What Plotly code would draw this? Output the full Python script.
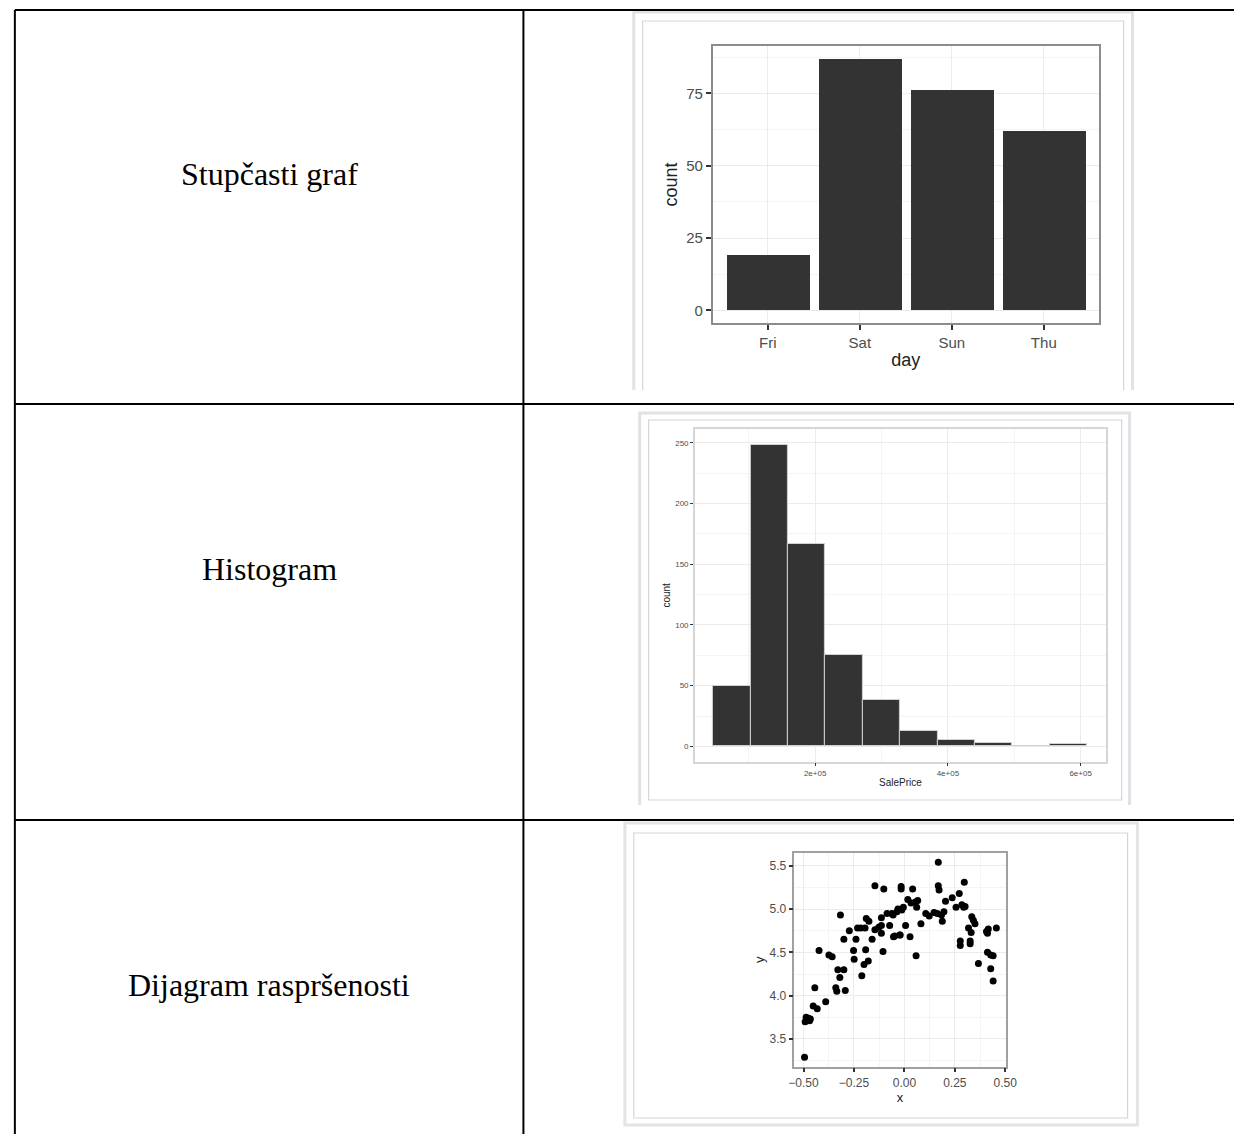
import plotly.graph_objects as go

W, H = 1246, 1134

# ---------------- data ----------------
row_labels = ["Stupčasti graf", "Histogram", "Dijagram raspršenosti"]

days = ["Fri", "Sat", "Sun", "Thu"]
day_counts = [19, 87, 76, 62]

price_bin_centers = [74700, 130980, 187260, 243540, 299820, 356100, 412380, 468660, 524940, 581220]
price_bin_width = 56280
price_counts = [50, 248, 167, 75, 38, 13, 5, 3, 0, 2]
price_tick_vals = [200000, 400000, 600000]
price_tick_text = ["2e+05", "4e+05", "6e+05"]
price_minor_vals = [100000, 300000, 500000]
count_tick_vals = [0, 50, 100, 150, 200, 250]

scatter_x = [
    -0.495, -0.492, -0.487, -0.482, -0.476, -0.470, -0.466, -0.452, -0.432, -0.444,
    -0.423, -0.390, -0.374, -0.358, -0.340, -0.335, -0.293, -0.330, -0.300, -0.320,
    -0.317, -0.300, -0.273, -0.252, -0.249, -0.211, -0.200, -0.192, -0.179, -0.240,
    -0.232, -0.216, -0.195, -0.189, -0.176, -0.160, -0.146, -0.127, -0.114, -0.114,
    -0.146, -0.102, -0.106, -0.086, -0.062, -0.073, -0.054, -0.021, -0.013, -0.005,
    -0.016, -0.016, -0.114, -0.037, -0.056, -0.032, 0.006, 0.017, 0.033, 0.041,
    0.055, 0.066, 0.061, 0.028, 0.058, 0.082, 0.106, 0.123, 0.147, 0.163,
    0.168, 0.168, 0.172, 0.188, 0.184, 0.196, 0.204, 0.237, 0.256, 0.272,
    0.285, 0.294, 0.301, 0.297, 0.277, 0.277, 0.326, 0.326, 0.318, 0.331,
    0.334, 0.342, 0.350, 0.367, 0.416, 0.412, 0.407, 0.456, 0.412, 0.428,
    0.440, 0.428, 0.440, -0.048, -0.023,
]
scatter_y = [
    3.29, 3.70, 3.75, 3.72, 3.74, 3.71, 3.73, 3.88, 3.85, 4.09,
    4.52, 3.93, 4.47, 4.45, 4.09, 4.05, 4.06, 4.30, 4.30, 4.21,
    4.93, 4.65, 4.75, 4.52, 4.42, 4.23, 4.36, 4.53, 4.40, 4.65,
    4.78, 4.78, 4.78, 4.89, 4.86, 4.65, 4.76, 4.79, 4.90, 4.81,
    5.27, 5.23, 4.51, 4.95, 4.95, 4.81, 4.68, 4.70, 4.99, 5.02,
    5.26, 5.23, 4.72, 4.97, 4.93, 5.00, 4.81, 5.11, 5.07, 5.23,
    5.08, 5.10, 5.02, 4.68, 4.46, 4.83, 4.95, 4.92, 4.96, 4.95,
    5.54, 5.27, 5.22, 4.86, 4.93, 4.97, 5.09, 5.13, 5.02, 5.18,
    5.05, 5.02, 5.03, 5.31, 4.63, 4.58, 4.63, 4.60, 4.78, 4.73,
    4.91, 4.87, 4.83, 4.37, 4.77, 4.72, 4.74, 4.78, 4.50, 4.47,
    4.46, 4.31, 4.17, 4.69, 4.70,
]


# ---------------- helpers (pixel -> paper) ----------------
def fx(p):
    return p / W


def fy(p):
    return 1 - p / H


SANS = "Liberation Sans"
SERIF = "Liberation Serif"
GRID = "#ebebeb"
MINOR = "#f4f4f4"


def axis_style(tick_size, title_size, border, ticklen, tickwidth):
    return dict(
        showline=True, mirror=True, linecolor=border, linewidth=1.5,
        ticks="outside", ticklen=ticklen, tickwidth=tickwidth, tickcolor="#333333",
        showgrid=True, gridcolor=GRID, gridwidth=1, zeroline=False,
        tickfont=dict(family=SANS, size=tick_size, color="#4d4d4d"),
        title_font=dict(family=SANS, size=title_size, color="#222222"),
        fixedrange=True,
    )


fig = go.Figure()

# bar chart
fig.add_trace(go.Bar(x=days, y=day_counts, marker=dict(color="#333333", line=dict(width=0)),
                     width=0.9, xaxis="x", yaxis="y", showlegend=False))
# histogram
fig.add_trace(go.Bar(x=price_bin_centers, y=price_counts, width=price_bin_width,
                     marker=dict(color="#333333", line=dict(color="#d0d0d0", width=1)),
                     xaxis="x2", yaxis="y2", showlegend=False))
# scatter
fig.add_trace(go.Scatter(x=scatter_x, y=scatter_y, mode="markers",
                         marker=dict(color="#000000", size=7),
                         xaxis="x3", yaxis="y3", showlegend=False))

layout = dict(
    width=W, height=H, margin=dict(l=0, r=0, t=0, b=0),
    paper_bgcolor="white", plot_bgcolor="rgba(0,0,0,0)",
    bargap=0,
)

# --- bar chart axes
ax = axis_style(15, 18, "#8c8c8c", 5, 2)
ax.update(domain=[fx(717), fx(1109)], anchor="y", type="category", range=[-0.6, 3.6],
          title=dict(text="day", standoff=4))
ay = axis_style(15, 18, "#8c8c8c", 5, 2)
ay.update(domain=[fy(323), fy(46)], anchor="x", range=[-4.35, 91.35],
          tickmode="linear", tick0=0, dtick=25,
          minor=dict(tick0=0, dtick=12.5, showgrid=True, gridcolor=MINOR),
          title=dict(text="count", standoff=4))
layout["xaxis"] = ax
layout["yaxis"] = ay

# --- histogram axes
ax2 = axis_style(8, 10, "#d6d6d6", 3, 1)
ax2.update(domain=[fx(699), fx(1116)], anchor="y2", range=[18850, 638000],
           tickmode="array", tickvals=price_tick_vals, ticktext=price_tick_text,
           minor=dict(tickmode="array", tickvals=price_minor_vals, showgrid=True, gridcolor=MINOR),
           title=dict(text="SalePrice", standoff=2))
ay2 = axis_style(8, 10, "#d6d6d6", 3, 1)
ay2.update(domain=[fy(761.7), fy(429)], anchor="x2", range=[-12.6, 261.3],
           tickmode="array", tickvals=count_tick_vals,
           minor=dict(tick0=0, dtick=25, showgrid=True, gridcolor=MINOR),
           title=dict(text="count", standoff=3))
layout["xaxis2"] = ax2
layout["yaxis2"] = ay2

# --- scatter axes
ax3 = axis_style(12, 13, "#a0a0a0", 4, 1.5)
ax3.update(domain=[fx(800), fx(1014.3)], anchor="y3", range=[-0.545, 0.502],
           tickmode="linear", tick0=-0.5, dtick=0.25, tickformat=".2f",
           minor=dict(tick0=-0.5, dtick=0.125, showgrid=True, gridcolor=MINOR),
           title=dict(text="x", standoff=2))
ay3 = axis_style(12, 13, "#a0a0a0", 4, 1.5)
ay3.update(domain=[fy(1066.7), fy(853)], anchor="x3", range=[3.18, 5.647],
           tickmode="linear", tick0=3.5, dtick=0.5, tickformat=".1f",
           minor=dict(tick0=3.5, dtick=0.25, showgrid=True, gridcolor=MINOR),
           title=dict(text="y", standoff=2))
layout["xaxis3"] = ax3
layout["yaxis3"] = ay3

shapes = []


def frame_path(x0, y0, x1, y1, color, width, closed):
    if closed:
        path = f"M {fx(x0)},{fy(y1)} L {fx(x0)},{fy(y0)} L {fx(x1)},{fy(y0)} L {fx(x1)},{fy(y1)} Z"
    else:
        path = f"M {fx(x0)},{fy(y1)} L {fx(x0)},{fy(y0)} L {fx(x1)},{fy(y0)} L {fx(x1)},{fy(y1)}"
    return dict(type="path", path=path, xref="paper", yref="paper",
                line=dict(color=color, width=width), fillcolor="white" if closed else None,
                layer="below")


# image frames (outer light strip + inner thin line)
shapes.append(frame_path(637, 12, 1143, 390, "#dfe2e6", 3, False))
shapes.append(frame_path(646, 21, 1134, 390, "#d3d5d8", 1.2, False))
shapes.append(frame_path(643, 413, 1140, 805, "#dfe2e6", 3, False))
shapes.append(frame_path(652, 420, 1132, 800, "#d3d5d8", 1.2, True))
shapes.append(frame_path(628, 823, 1148, 1125, "#e2e4e8", 3, True))
shapes.append(frame_path(637, 833, 1138, 1118, "#d3d5d8", 1.2, True))

# table lines
for yy in (10, 404, 820):
    shapes.append(dict(type="line", xref="paper", yref="paper",
                       x0=fx(9), x1=fx(1246), y0=fy(yy), y1=fy(yy),
                       line=dict(color="black", width=2), layer="above"))
for xx in (9, 525):
    shapes.append(dict(type="line", xref="paper", yref="paper",
                       x0=fx(xx), x1=fx(xx), y0=fy(10), y1=fy(1134),
                       line=dict(color="black", width=2), layer="above"))
layout["shapes"] = shapes

label_y = [174, 569, 985]
annotations = []
for text, yy in zip(row_labels, label_y):
    annotations.append(dict(text=text, x=fx(267), y=fy(yy), xref="paper", yref="paper",
                            showarrow=False, xanchor="center", yanchor="middle",
                            font=dict(family=SERIF, size=32, color="black")))
layout["annotations"] = annotations

fig.update_layout(**layout)

fig.write_html(
    "out.html", include_plotlyjs=True,
    config={"displayModeBar": False},
    post_script=(
        "document.documentElement.style.margin='0';"
        "document.documentElement.style.padding='0';"
        "document.documentElement.style.overflow='hidden';"
        "document.body.style.margin='0';"
        "document.body.style.padding='0';"
        "document.body.style.overflow='hidden';"
    ),
)
